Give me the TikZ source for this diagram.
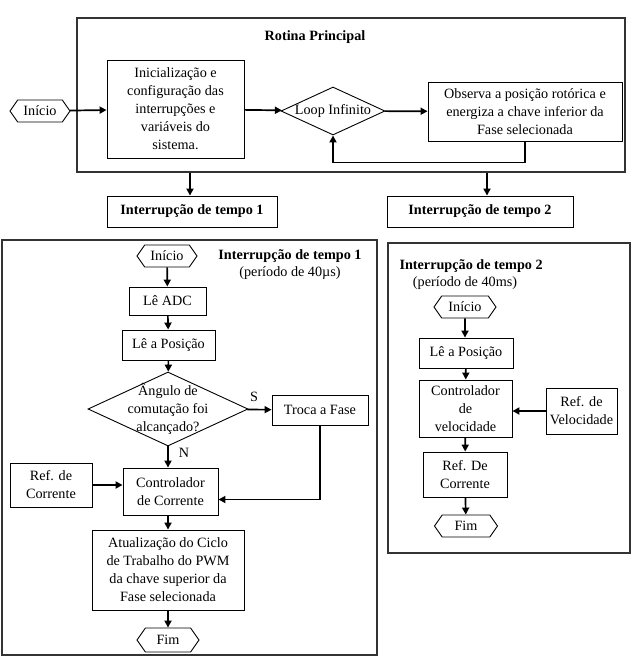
\documentclass[tikz,border=0pt]{standalone}
\usepackage{fontspec}
\setmainfont{Liberation Serif}
\usetikzlibrary{arrows.meta,shapes.geometric,shapes.symbols}

\tikzset{
  caixa/.style={draw, line width=0.9pt, align=center, inner sep=1pt, font=\fontsize{14.2}{18}\selectfont},
  inicio/.style={draw, line width=0.9pt, shape=signal, signal to=east and west, signal pointer angle=110, minimum height=22pt, minimum width=60pt, inner sep=1pt, font=\fontsize{14.2}{17}\selectfont},
  decisao/.style={draw, line width=0.9pt, diamond, align=center, inner sep=-20pt, font=\fontsize{14.2}{18}\selectfont},
  moldura/.style={draw=black!80, line width=1.1pt},
  titulo/.style={font=\fontsize{14.2}{17}\selectfont\bfseries},
  rotulo/.style={font=\fontsize{14.2}{17}\selectfont},
  seta/.style={line width=1.7pt, -{Triangle[length=7pt,width=7pt]}},
}

\begin{document}
\begin{tikzpicture}[x=1pt, y=-1pt]
\useasboundingbox (0,0) rectangle (634,657);

% rotina principal
\node[moldura, minimum width=548pt, minimum height=154pt] (principal) at (351,95) {};
\node[titulo] (tprinc) at (315,37) {Rotina Principal};
\node[inicio] (ini) at (40,111) {Início};
\node[caixa, minimum width=137pt, minimum height=98pt] (conf) at (175.5,109)
  {Inicialização e\\configuração das\\interrupções e\\variáveis do\\sistema.};
\node[decisao, minimum width=104pt, minimum height=48pt] (loop) at (333,111) {Loop Infinito};
\node[caixa, minimum width=194pt, minimum height=59pt] (observa) at (525,111.5)
  {Observa a posição rotórica e\\energiza a chave inferior da\\Fase selecionada};
\node[caixa, titulo, minimum width=170pt, minimum height=31pt] (int1) at (192,211.5) {Interrupção de tempo 1};
\node[caixa, titulo, minimum width=186pt, minimum height=31pt] (int2) at (480,211.5) {Interrupção de tempo 2};

\draw[seta] (ini) -- (conf);
\draw[seta] (conf) -- (loop);
\draw[seta] (loop) -- (observa);
\draw[seta] (observa.south) -- ++(0,21) -| (loop.south);
\draw[seta] ([xshift=-2pt]principal.south -| int1) -- ([xshift=-2pt]int1.north);
\draw[seta] ([xshift=7pt]principal.south -| int2) -- ([xshift=7pt]int2.north);

% interrupcao de tempo 1
\draw[moldura] (2,240) rectangle (377,655);
\node[inicio] (ini1) at (167,256) {Início};
\node[titulo] (tint1) at (290,256) {Interrupção de tempo 1};
\node[rotulo] (per1) at (290,273) {(período de 40µs)};
\node[caixa, minimum width=77pt, minimum height=28pt] (adc) at (167.5,301) {Lê ADC};
\node[caixa, minimum width=93pt, minimum height=30pt] (pos1) at (168.5,345) {Lê a Posição};
\node[decisao, minimum width=160pt, minimum height=74pt] (angulo) at (168,409)
  {Ângulo de\\comutação foi\\alcançado?};
\node[caixa, minimum width=96pt, minimum height=30pt] (troca) at (320,410) {Troca a Fase};
\node[caixa, minimum width=95pt, minimum height=47pt] (cont1) at (170.5,491.5) {Controlador\\de Corrente};
\node[caixa, minimum width=82pt, minimum height=44pt] (ref1) at (51,485) {Ref. de\\Corrente};
\node[caixa, minimum width=152pt, minimum height=80pt] (atual) at (168,570)
  {Atualização do Ciclo\\de Trabalho do PWM\\da chave superior da\\Fase selecionada};
\node[inicio, minimum width=62pt, minimum height=24pt] (fim1) at (168,640) {Fim};
\node[rotulo] (sim) at (254,397) {S};
\node[rotulo] (nao) at (184,453) {N};

\draw[seta] (ini1) -- (adc);
\draw[seta] (adc) -- (pos1);
\draw[seta] (pos1) -- (angulo);
\draw[seta] (angulo) -- (troca);
\draw[seta] (angulo.south) -- (angulo.south |- cont1.north);
\draw[seta] (ref1.east) -- (ref1.east -| cont1.west);
\draw[seta] (troca.south) |- ([yshift=-8pt]cont1.east);
\draw[seta] (cont1.south -| atual) -- (atual);
\draw[seta] (atual) -- (fim1);

% interrupcao de tempo 2
\draw[moldura] (388,243) rectangle (630,553);
\node[titulo, anchor=west] (tint2) at (396,266) {Interrupção de tempo 2};
\node[rotulo] (per2) at (465,283) {(período de 40ms)};
\node[inicio, minimum width=62pt] (ini2) at (465,307) {Início};
\node[caixa, minimum width=94pt, minimum height=30pt] (pos2) at (466,353) {Lê a Posição};
\node[caixa, minimum width=93pt, minimum height=57pt] (cont2) at (465.5,408.5) {Controlador\\de\\velocidade};
\node[caixa, minimum width=71pt, minimum height=46pt] (refv) at (581.5,411) {Ref. de\\Velocidade};
\node[caixa, minimum width=84pt, minimum height=45pt] (refc) at (465,474.5) {Ref. De\\Corrente};
\node[inicio, minimum width=63pt] (fim2) at (466,526) {Fim};

\draw[seta] (ini2) -- (ini2 |- pos2.north);
\draw[seta] (pos2) -- (cont2);
\draw[seta] (refv) -- (refv -| cont2.east);
\draw[seta] (cont2) -- (refc);
\draw[seta] (refc) -- (fim2);
\end{tikzpicture}
\end{document}
